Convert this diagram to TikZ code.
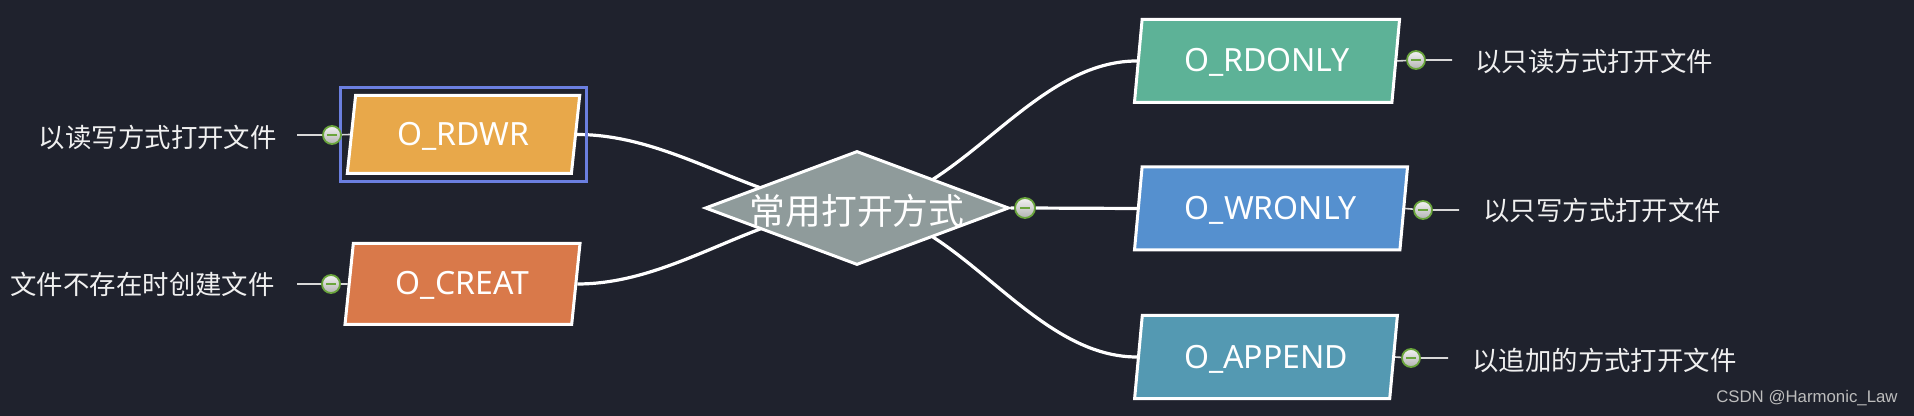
\documentclass[tikz,border=0pt]{standalone}
\usepackage{fontspec}
\setmainfont{Noto Sans}
\newfontfamily\cjkfont{Noto Sans CJK SC}
\newfontfamily\wmfont{Liberation Sans}
\usetikzlibrary{shapes.geometric,fit}
\definecolor{bgc}{HTML}{1F222D}
\definecolor{cRDWR}{HTML}{E8A84A}
\definecolor{cCREAT}{HTML}{D9794A}
\definecolor{cRDONLY}{HTML}{5DB297}
\definecolor{cWRONLY}{HTML}{5590CF}
\definecolor{cAPPEND}{HTML}{5499B2}
\definecolor{cROOT}{HTML}{8F9B9B}
\definecolor{selc}{HTML}{6B7FE0}
\definecolor{togg}{HTML}{6AA53C}
\definecolor{stubc}{HTML}{D8D8D8}
\definecolor{wmc}{HTML}{BDBDBD}
\pgfdeclarelayer{backlayer}
\pgfdeclarelayer{connlayer}
\pgfsetlayers{backlayer,connlayer,main}
\tikzset{
  para/.style={trapezium, trapezium left angle=77, trapezium right angle=103,
    trapezium stretches=true, draw=white, line width=1.5pt, inner sep=0pt,
    text height=11pt, text depth=-3.2pt,
    text=white, font=\fontsize{16}{18}\selectfont},
  rootd/.style={diamond, draw=white, line width=1.5pt, fill=cROOT, inner sep=0pt,
    minimum width=152pt, minimum height=57pt},
  rootlabel/.style={text=white, font=\cjkfont\fontsize{17.9}{20}\selectfont, inner sep=0pt, yshift=-1.2pt},
  desc/.style={text=white!94!black, font=\cjkfont\fontsize{13.2}{15}\selectfont, inner sep=0pt},
  tog/.style={circle, draw=togg, line width=0.9pt, top color=white!95!black, bottom color=black!30,
    minimum size=9pt, inner sep=0pt,
    path picture={\draw[togg, line width=1pt] ([xshift=-2.6pt]path picture bounding box.center) -- ([xshift=2.6pt]path picture bounding box.center);}},
  stub/.style={draw=stubc, line width=0.8pt},
  conn/.style={draw=white, line width=1.6pt},
  wm/.style={text=wmc, font=\wmfont\fontsize{8.4}{10}\selectfont, inner sep=0pt}
}
\begin{document}
\begin{tikzpicture}[x=0.5pt,y=-0.5pt]
\begin{pgfonlayer}{backlayer}
\fill[bgc] (0,0) rectangle (1914,416);
\end{pgfonlayer}
\useasboundingbox (0,0) rectangle (1914,416);

% nodes
\node[rootd, label={[rootlabel]center:常用打开方式}] (root) at (857,208) {};
\node[para, fill=cRDWR, minimum width=117pt, minimum height=39pt] (rdwr) at (463.5,134.5) {O\_RDWR};
\node[para, fill=cCREAT, minimum width=118pt, minimum height=40.5pt] (creat) at (462.5,284) {O\_CREAT};
\node[para, fill=cRDONLY, minimum width=133.5pt, minimum height=41.5pt] (rdonly) at (1267,61) {O\_RDONLY};
\node[para, fill=cWRONLY, minimum width=137.5pt, minimum height=41.5pt] (wronly) at (1271,208.5) {O\_WRONLY};
\node[para, fill=cAPPEND, minimum width=132.5pt, minimum height=41.5pt] (append) at (1266,357) {O\_APPEND};
\node[draw=selc, line width=1.5pt, fit=(rdwr), inner xsep=4.5pt, inner ysep=3pt] (sel) {};

% toggles
\node[tog] (t1) at (332,135) {};
\node[tog] (t2) at (331,284) {};
\node[tog, minimum size=10pt] (troot) at (1025,208) {};
\node[tog] (t3) at (1416,60) {};
\node[tog] (t4) at (1423,210) {};
\node[tog] (t5) at (1411,358) {};

% descriptions
\node[desc, anchor=east] (l1) at (277,137) {以读写方式打开文件};
\node[desc, anchor=east] (l2) at (275,284) {文件不存在时创建文件};
\node[desc, anchor=west] (l3) at (1475,61) {以只读方式打开文件};
\node[desc, anchor=west] (l4) at (1483,210) {以只写方式打开文件};
\node[desc, anchor=west] (l5) at (1472,360) {以追加的方式打开文件};

\coordinate (s1) at (297,135);
\coordinate (s2) at (297,284);
\coordinate (s3) at (1452,60);
\coordinate (s4) at (1459,210);
\coordinate (s5) at (1448,358);

\node[wm, anchor=east] (wmark) at (1898,398) {CSDN @Harmonic\_Law};

\begin{pgfonlayer}{connlayer}
\path[conn] (rdwr.east) .. controls +(100,0) and +(-97,0) .. (root.center);
\path[conn] (creat.east) .. controls +(100,0) and +(-97,0) .. (root.center);
\path[conn] (root.center) .. controls +(103,-8) and +(-106,0) .. (rdonly.west);
\path[conn] (root.center) .. controls +(103,8) and +(-106,0) .. (append.west);
\path[conn] (root.east) -- (troot) -- (wronly.west);
\path[stub] (s1) -- (t1) -- (rdwr.west);
\path[stub] (s2) -- (t2) -- (creat.west);
\path[stub] (rdonly.east) -- (t3) -- (s3);
\path[stub] (wronly.east) -- (t4) -- (s4);
\path[stub] (append.east) -- (t5) -- (s5);
\end{pgfonlayer}
\end{tikzpicture}
\end{document}
